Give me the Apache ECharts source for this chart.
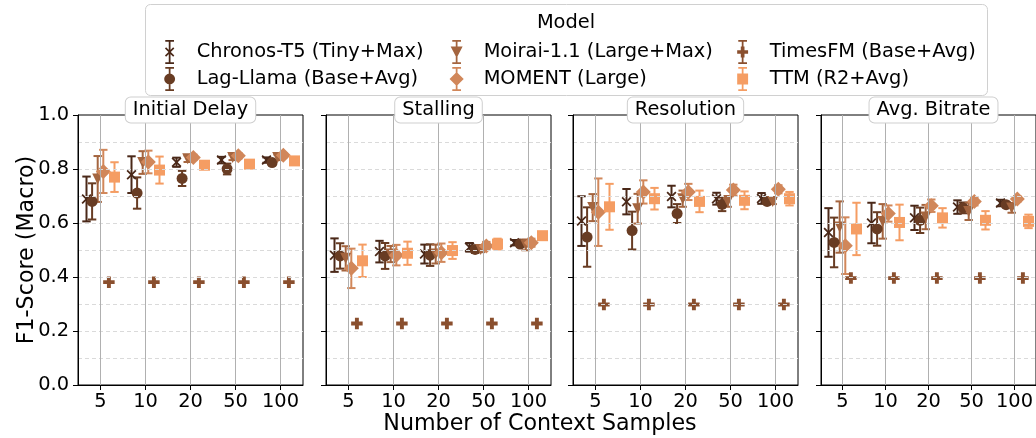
<!DOCTYPE html>
<html><head><meta charset="utf-8">
<script src="https://cdn.jsdelivr.net/npm/echarts@6/dist/echarts.min.js"></script>
<style>html,body{margin:0;padding:0;background:#fff}#c{width:1036px;height:438px}</style>
</head><body><div id="c"></div>
<script>
// ---------------- DATA ----------------
const categories = ['5', '10', '20', '50', '100'];
const models = ['Chronos-T5 (Tiny+Max)', 'Lag-Llama (Base+Avg)', 'Moirai-1.1 (Large+Max)', 'MOMENT (Large)', 'TimesFM (Base+Avg)', 'TTM (R2+Avg)'];
const metrics = ['Initial Delay', 'Stalling', 'Resolution', 'Avg. Bitrate'];
const yTicks = [0, 0.2, 0.4, 0.6, 0.8, 1.0];

// rows: models in the order above; columns: categories
const initialDelayMean = [
  [0.689, 0.779, 0.825, 0.833, 0.833],
  [0.680, 0.711, 0.765, 0.800, 0.824],
  [0.763, 0.824, 0.838, 0.843, 0.843],
  [0.791, 0.826, 0.843, 0.849, 0.851],
  [0.381, 0.381, 0.381, 0.381, 0.381],
  [0.770, 0.796, 0.814, 0.818, 0.830]
];
const initialDelayStd = [
  [0.083, 0.068, 0.017, 0.012, 0.010],
  [0.067, 0.058, 0.028, 0.020, 0.010],
  [0.085, 0.042, 0.012, 0.010, 0.010],
  [0.080, 0.042, 0.010, 0.010, 0.008],
  [0.000, 0.000, 0.000, 0.000, 0.000],
  [0.055, 0.050, 0.010, 0.010, 0.010]
];
const stallingMean = [
  [0.481, 0.494, 0.485, 0.510, 0.527],
  [0.478, 0.478, 0.481, 0.502, 0.522],
  [0.469, 0.485, 0.485, 0.502, 0.519],
  [0.432, 0.481, 0.490, 0.515, 0.527],
  [0.228, 0.228, 0.228, 0.228, 0.228],
  [0.460, 0.488, 0.498, 0.522, 0.553]
];
const stallingStd = [
  [0.062, 0.040, 0.035, 0.016, 0.010],
  [0.047, 0.048, 0.040, 0.013, 0.008],
  [0.045, 0.030, 0.035, 0.010, 0.020],
  [0.073, 0.038, 0.034, 0.015, 0.015],
  [0.000, 0.000, 0.000, 0.000, 0.000],
  [0.060, 0.043, 0.031, 0.020, 0.012]
];
const resolutionMean = [
  [0.607, 0.679, 0.698, 0.690, 0.691],
  [0.548, 0.572, 0.635, 0.669, 0.680],
  [0.657, 0.653, 0.690, 0.680, 0.680],
  [0.640, 0.715, 0.715, 0.722, 0.725],
  [0.298, 0.298, 0.298, 0.298, 0.298],
  [0.660, 0.690, 0.680, 0.684, 0.690]
];
const resolutionStd = [
  [0.092, 0.047, 0.040, 0.022, 0.020],
  [0.110, 0.070, 0.035, 0.025, 0.010],
  [0.050, 0.055, 0.030, 0.020, 0.010],
  [0.125, 0.043, 0.030, 0.020, 0.015],
  [0.000, 0.000, 0.000, 0.000, 0.000],
  [0.085, 0.040, 0.040, 0.033, 0.025]
];
const avgBitrateMean = [
  [0.565, 0.600, 0.619, 0.659, 0.674],
  [0.528, 0.578, 0.610, 0.656, 0.668],
  [0.585, 0.606, 0.622, 0.643, 0.656],
  [0.516, 0.635, 0.664, 0.680, 0.689],
  [0.396, 0.396, 0.396, 0.396, 0.396],
  [0.578, 0.602, 0.619, 0.610, 0.606]
];
const avgBitrateStd = [
  [0.090, 0.075, 0.045, 0.025, 0.012],
  [0.092, 0.062, 0.047, 0.020, 0.010],
  [0.095, 0.064, 0.045, 0.032, 0.018],
  [0.105, 0.030, 0.023, 0.015, 0.010],
  [0.000, 0.000, 0.000, 0.000, 0.000],
  [0.097, 0.066, 0.036, 0.034, 0.025]
];
const panelMeans = [initialDelayMean, stallingMean, resolutionMean, avgBitrateMean];
const panelStds = [initialDelayStd, stallingStd, resolutionStd, avgBitrateStd];

// ---------------- STYLE ----------------
const colors = ['#4a2818', '#683c23', '#a4653f', '#d1875a', '#8a4f2e', '#f59d63'];
const dodge = [-14, -8.4, -2.8, 2.8, 8.4, 14];
const FONT = 'DejaVu Sans';

function xPoly(cx, cy, h, t) {
  const p = [[cx-h, cy-h+t],[cx-h+t, cy-h],[cx, cy-t],[cx+h-t, cy-h],[cx+h, cy-h+t],[cx+t, cy],
             [cx+h, cy+h-t],[cx+h-t, cy+h],[cx, cy+t],[cx-h+t, cy+h],[cx-h, cy+h-t],[cx-t, cy]];
  return 'M' + p.map(q => q[0].toFixed(2) + ',' + q[1].toFixed(2)).join(' L') + ' Z';
}
const markerSymbols = [
  'path://' + xPoly(5, 5, 5, 1.25),
  'circle',
  'path://M0,0 H10 L5,10 Z',
  'diamond',
  'path://M3.3,0 H6.7 V3.3 H10 V6.7 H6.7 V10 H3.3 V6.7 H0 V3.3 H3.3 Z',
  'rect'
];
const markerSizes = [10, 11, 11, 15, 11.5, 11];

const bar = 'M3,0 H11 V1.6 H3 Z M6.2,0 H7.8 V22 H6.2 Z M3,20.4 H11 V22 H3 Z M0,0 L0,0 Z M14,22 L14,22 Z ';
const legendIcons = [
  'path://' + bar + xPoly(7, 11, 4.3, 1.05),
  'path://' + bar + 'M2,11 A5,5 0 1,1 12,11 A5,5 0 1,1 2,11 Z',
  'path://' + bar + 'M1.5,6 H12.5 L7,16.5 Z',
  'path://' + bar + 'M7,4.5 L13.5,11 L7,17.5 L0.5,11 Z',
  'path://' + bar + 'M5.3,6 H8.7 V9.3 H12 V12.7 H8.7 V16 H5.3 V12.7 H2 V9.3 H5.3 Z',
  'path://' + bar + 'M2,6 H12 V16 H2 Z'
];

const gridLefts = [78, 326, 573, 821], gridW = 225, gridTop = 115, gridH = 270;

const grids = [], xAxes = [], yAxes = [], series = [], graphics = [];
metrics.forEach((name, p) => {
  grids.push({left: gridLefts[p], top: gridTop, width: gridW, height: gridH,
    show: true, borderColor: '#000', borderWidth: 1, backgroundColor: 'transparent'});
  xAxes.push({type: 'category', gridIndex: p, data: categories, boundaryGap: true, z: 5,
    axisLine: {show: true, onZero: false, lineStyle: {color: '#000', width: 1}},
    axisTick: {show: true, alignWithLabel: true, interval: 0, length: 5, lineStyle: {color: '#000'}},
    axisLabel: {color: '#000', fontSize: 19.4, fontFamily: FONT, margin: 7, interval: 0},
    splitLine: {show: false}});
  yAxes.push({type: 'value', gridIndex: p, min: 0, max: 1, interval: 0.2, z: 5,
    axisLine: {show: true, onZero: false, lineStyle: {color: '#000', width: 1}},
    axisTick: {show: true, length: 5, lineStyle: {color: '#000'}},
    axisLabel: {show: p === 0, color: '#000', fontSize: 19.4, fontFamily: FONT, margin: 9,
      formatter: v => yTicks.some(t => Math.abs(t - v) < 1e-9) ? v.toFixed(1) : ''},
    splitLine: {show: true, showMinLine: false, showMaxLine: false, lineStyle: {color: '#dadada', width: 1, type: [4, 3]}},
    minorTick: {show: false, splitNumber: 2},
    minorSplitLine: {show: true, lineStyle: {color: '#dadada', width: 1, type: [4, 3]}}});
  // vertical category grid lines
  series.push({type: 'scatter', xAxisIndex: p, yAxisIndex: p, data: [], z: 1, silent: true,
    markLine: {silent: true, symbol: 'none', label: {show: false}, animation: false,
      lineStyle: {color: '#b0b0b0', width: 1, type: 'solid'},
      data: categories.map(c => ({xAxis: c}))}});
  models.forEach((m, i) => {
    const mean = panelMeans[p][i], sd = panelStds[p][i];
    const col = colors[i], dx = dodge[i];
    series.push({type: 'custom', name: m + ' err', xAxisIndex: p, yAxisIndex: p, z: 3, silent: true,
      encode: {x: 0, y: [1, 2]},
      data: mean.map((v, k) => [k, v - sd[k], v + sd[k]]),
      renderItem: (params, api) => {
        const top = api.coord([api.value(0), api.value(2)]);
        const bot = api.coord([api.value(0), api.value(1)]);
        const x = top[0] + dx, cw = 4.2;
        const st = {stroke: col, lineWidth: 2};
        return {type: 'group', children: [
          {type: 'line', shape: {x1: x, y1: top[1], x2: x, y2: bot[1]}, style: st},
          {type: 'line', shape: {x1: x - cw, y1: top[1], x2: x + cw, y2: top[1]}, style: st},
          {type: 'line', shape: {x1: x - cw, y1: bot[1], x2: x + cw, y2: bot[1]}, style: st}
        ]};
      }});
    series.push({type: 'scatter', name: m, xAxisIndex: p, yAxisIndex: p, z: 3, silent: true,
      symbol: markerSymbols[i], symbolSize: markerSizes[i], symbolKeepAspect: true,
      symbolOffset: [dx, 0], itemStyle: {color: col, opacity: 1},
      data: mean.map((v, k) => [k, v])});
  });
  graphics.push({type: 'text', z: 100, x: gridLefts[p] + gridW / 2, y: 110,
    style: {text: name, fill: '#000', fontSize: 19.4, fontFamily: FONT, align: 'center', verticalAlign: 'middle',
      backgroundColor: '#fff', borderColor: '#cfcfcf', borderWidth: 1, borderRadius: 5, padding: [3, 7, 3, 7]}});
});

// legend frame and title
graphics.push({type: 'rect', z: 1, shape: {x: 145.5, y: 4.5, width: 842, height: 91, r: 5},
  style: {fill: 'rgba(255,255,255,0.85)', stroke: '#d0d0d0', lineWidth: 1}});
graphics.push({type: 'text', z: 2, x: 566, y: 23,
  style: {text: 'Model', fill: '#000', fontSize: 19.4, fontFamily: FONT, align: 'center', verticalAlign: 'middle'}});
// axis titles
graphics.push({type: 'text', z: 2, x: 540, y: 424,
  style: {text: 'Number of Context Samples', fill: '#000', fontSize: 22.2, fontFamily: FONT, align: 'center', verticalAlign: 'middle'}});
graphics.push({type: 'text', z: 2, x: 27, y: 250, rotation: Math.PI / 2,
  style: {text: 'F1-Score (Macro)', fill: '#000', fontSize: 22.2, fontFamily: FONT, align: 'center', verticalAlign: 'middle'}});

const legendCols = [[0, 1], [2, 3], [4, 5]];
const legendLefts = [162, 449, 735];
const legends = legendCols.map((ids, c) => ({
  orient: 'vertical', left: legendLefts[c], top: 40, padding: 0, itemGap: 3,
  itemWidth: 44, itemHeight: 24, selectedMode: false, z: 10,
  textStyle: {color: '#000', fontSize: 19.4, fontFamily: FONT},
  data: ids.map(i => ({name: models[i], icon: legendIcons[i]}))
}));

const chart = echarts.init(document.getElementById('c'), null, {renderer: 'canvas'});
chart.setOption({
  animation: false,
  backgroundColor: '#fff',
  textStyle: {fontFamily: FONT},
  grid: grids, xAxis: xAxes, yAxis: yAxes,
  legend: legends,
  graphic: graphics,
  series: series
});
</script>
</body></html>
